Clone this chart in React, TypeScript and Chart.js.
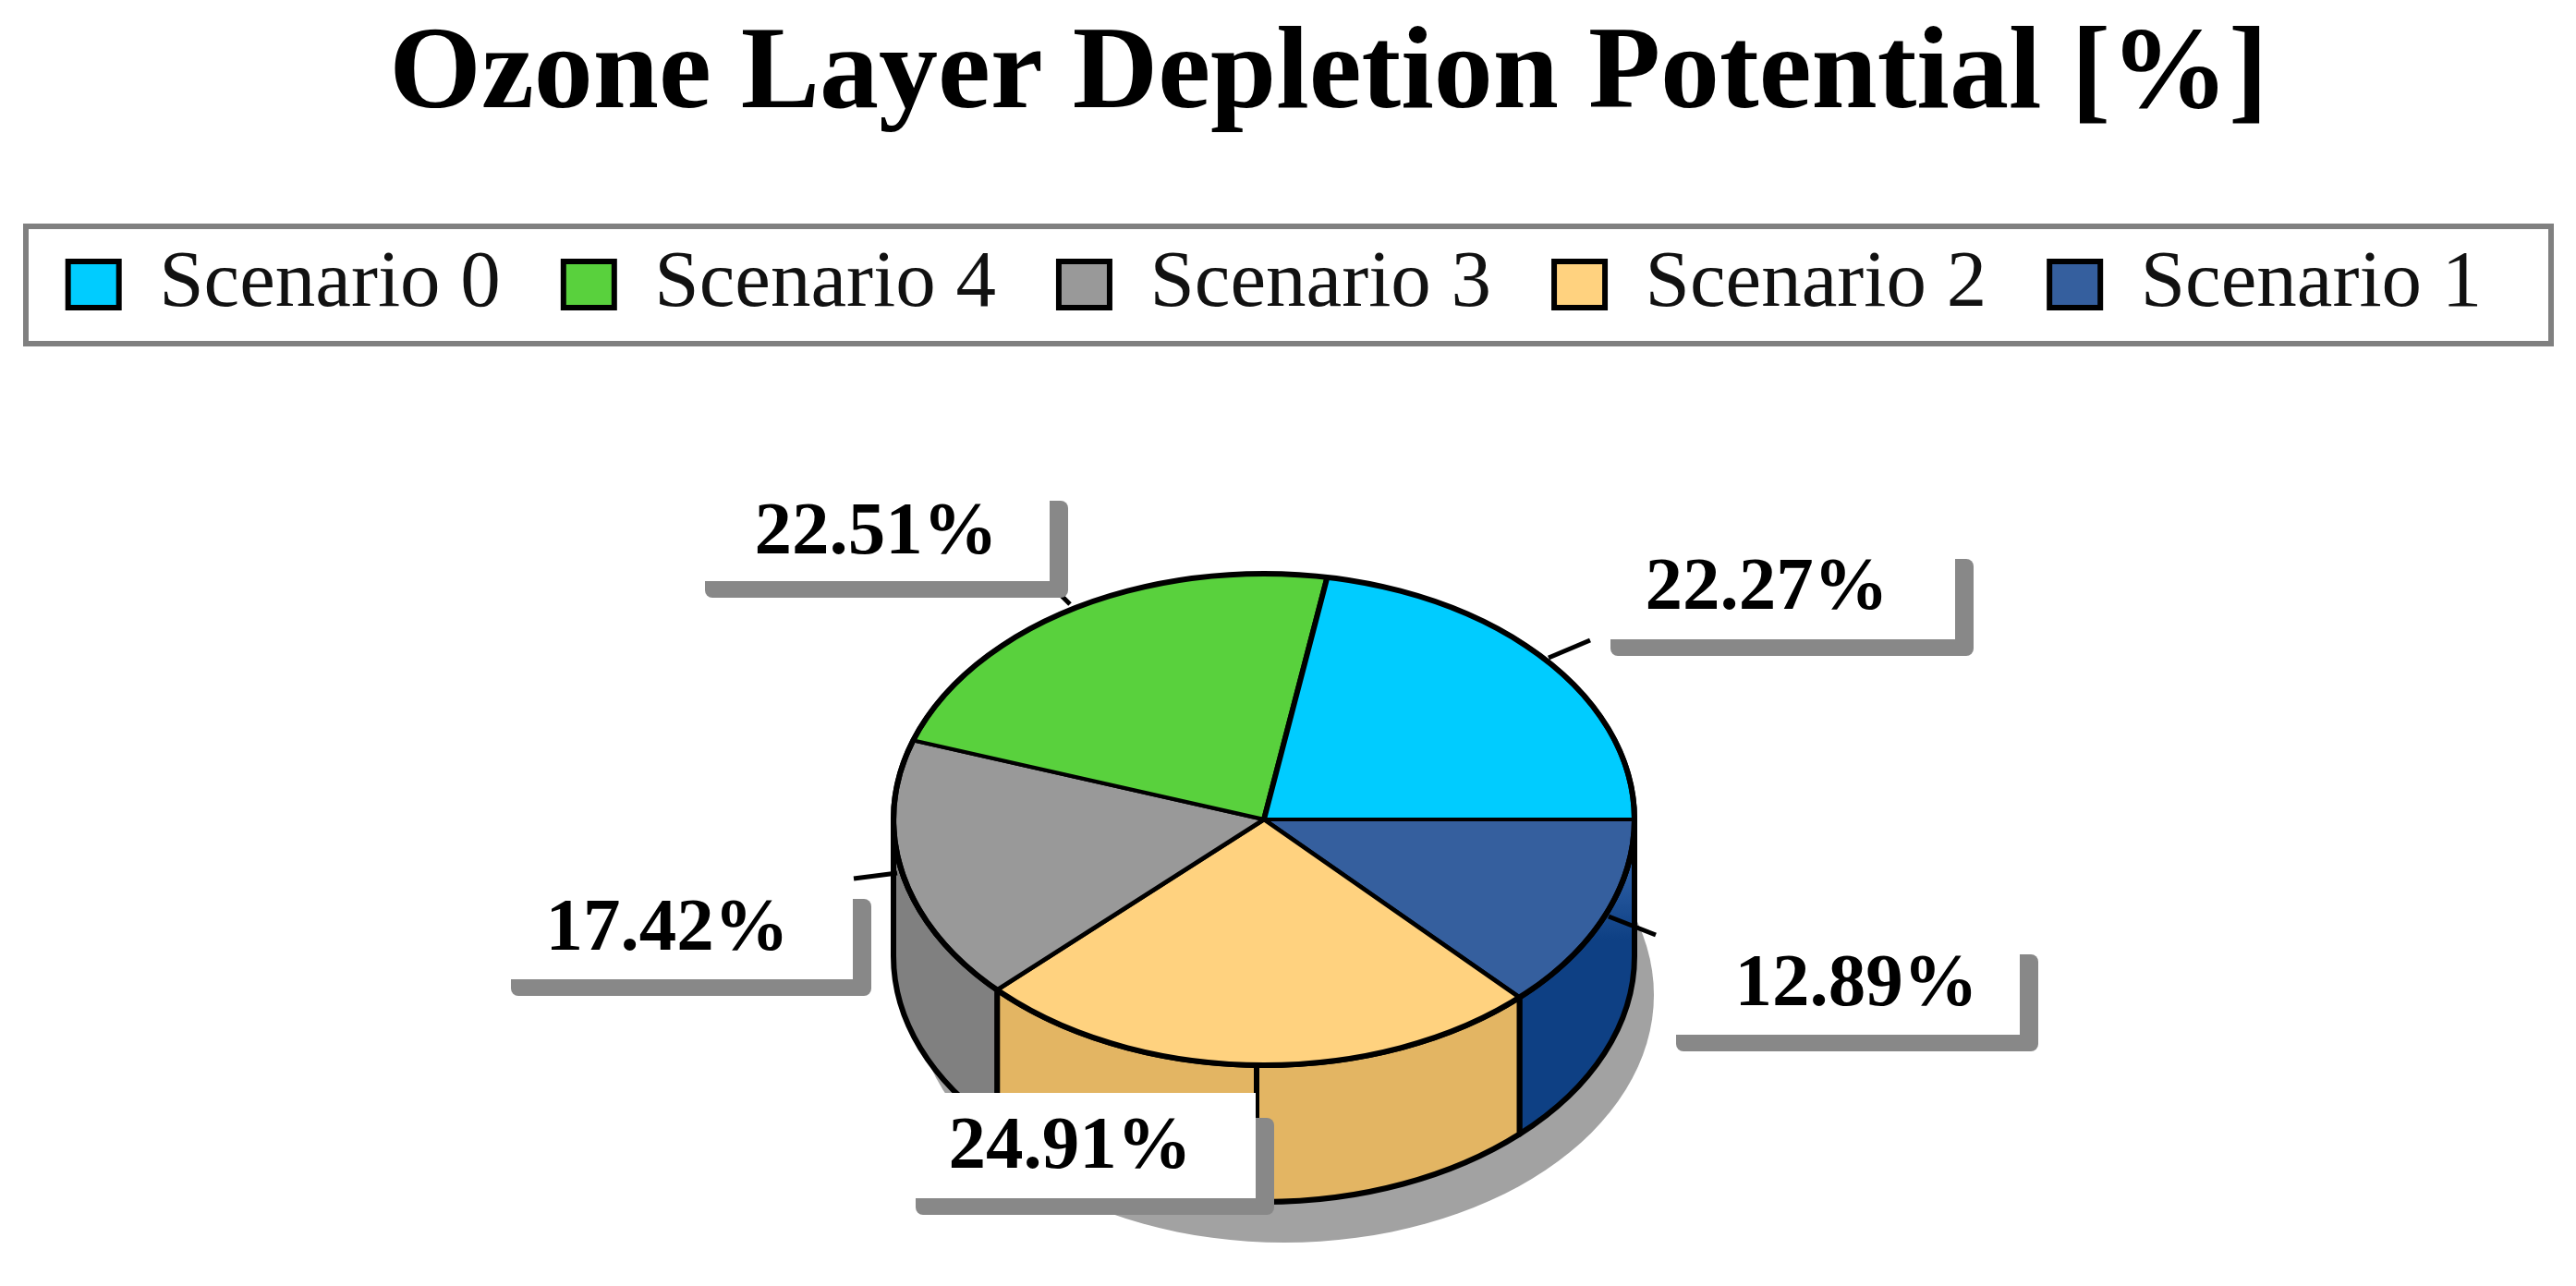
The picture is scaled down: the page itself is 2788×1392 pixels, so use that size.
import React, { useEffect, useRef } from "react";
import { Chart, registerables } from "chart.js";

Chart.register(...registerables);

const titleText = "Ozone Layer Depletion Potential [%]";
// clockwise from 3 o'clock; the legend runs in the opposite order
const categories = ["Scenario 1", "Scenario 2", "Scenario 3", "Scenario 4", "Scenario 0"];
const values = [12.89, 24.91, 17.42, 22.51, 22.27];
const topColors = ["#355F9E", "#FFD27F", "#999999", "#59D13D", "#00CCFF"];
const wallColors = ["#0E4084", "#E3B563", "#808080", "#59D13D", "#00CCFF"];

const W = 2788;
const H = 1392;
const PIE = { cx: 1368, cy: 887, rx: 401, ry: 266, depth: 148 };
const SHADOW = { cx: 1390, cy: 1077, rx: 400, ry: 268 };
const SERIF = "'Liberation Serif', serif";

// callout layout, in the order of categories: white box, text centre + baseline, leader
const calloutBoxes = [
  [1812, 1016, 374, 104],
  [989, 1183, 370, 114],
  [551, 956, 372, 104],
  [761, 525, 375, 104],
  [1741, 588, 375, 104],
];
const calloutText = [
  [2009, 1088],
  [1158, 1264],
  [722, 1028],
  [948, 599],
  [1912, 659],
];
const leaders = [
  [1741, 992, 1792, 1012],
  null,
  [971, 945, 924, 951],
  [1149, 645, 1158, 654],
  [1676, 712, 1721, 693],
];

const pie3d = {
  id: "pie3d",
  afterLayout(chart: any) {
    chart.titleBlock.left += 44;
    chart.titleBlock.right += 44;
    chart.legend.left -= 14;
    chart.legend.right -= 14;
  },
  beforeDraw(chart: any) {
    const ctx = chart.ctx;
    ctx.save();
    ctx.fillStyle = "#ffffff";
    ctx.fillRect(0, 0, W, H);
    ctx.strokeStyle = "#808080";
    ctx.lineWidth = 6;
    ctx.strokeRect(28, 245, 2733, 127);
    ctx.restore();
  },
  beforeDatasetsDraw(chart: any) {
    const ctx = chart.ctx;
    const arcs = chart.getDatasetMeta(0).data;
    const { cx, cy, rx, ry, depth } = PIE;
    ctx.save();
    ctx.fillStyle = "#A2A2A2";
    ctx.beginPath();
    ctx.ellipse(SHADOW.cx, SHADOW.cy, SHADOW.rx, SHADOW.ry, 0, 0, Math.PI * 2);
    ctx.fill();
    ctx.lineWidth = 6;
    ctx.strokeStyle = "#000";
    ctx.lineJoin = "round";
    arcs.forEach((arc: any, i: number) => {
      const norm = (a: number) => {
        let v = a;
        while (v < 0) v += Math.PI * 2;
        while (v >= Math.PI * 2) v -= Math.PI * 2;
        return v;
      };
      const s = norm(arc.startAngle);
      const e = s + (arc.endAngle - arc.startAngle);
      const a0 = Math.max(s, 0);
      const a1 = Math.min(e, Math.PI);
      if (a1 <= a0) return;
      let fill: any = wallColors[i];
      if (i === 0) {
        const g = ctx.createLinearGradient(0, cy + 60, 0, cy + 130);
        g.addColorStop(0, "#2A5CA2");
        g.addColorStop(1, wallColors[i]);
        fill = g;
      }
      ctx.fillStyle = fill;
      ctx.beginPath();
      ctx.ellipse(cx, cy, rx, ry, 0, a0, a1);
      ctx.ellipse(cx, cy + depth, rx, ry, 0, a1, a0, true);
      ctx.closePath();
      ctx.fill();
      ctx.stroke();
    });
    // seam at the very front of the wall
    ctx.beginPath();
    ctx.moveTo(cx - 8, cy + ry);
    ctx.lineTo(cx - 8, cy + ry + depth);
    ctx.stroke();
    ctx.restore();

    const a = arcs[0];
    ctx.save();
    ctx.translate(cx, cy);
    ctx.scale(rx / a.outerRadius, ry / a.outerRadius);
    ctx.translate(-a.x, -a.y);
  },
  afterDatasetsDraw(chart: any) {
    const ctx = chart.ctx;
    ctx.restore();
    const { cx, cy, rx, ry } = PIE;
    ctx.save();
    ctx.strokeStyle = "#000";
    ctx.lineWidth = 6;
    ctx.beginPath();
    ctx.ellipse(cx, cy, rx, ry, 0, 0, Math.PI * 2);
    ctx.stroke();
    ctx.lineWidth = 5;
    leaders.forEach((l) => {
      if (!l) return;
      ctx.beginPath();
      ctx.moveTo(l[0], l[1]);
      ctx.lineTo(l[2], l[3]);
      ctx.stroke();
    });
    values.forEach((v, i) => {
      const [x, y, w, h] = calloutBoxes[i];
      ctx.fillStyle = "#888888";
      ctx.beginPath();
      ctx.roundRect(x + 2, y + h - 87, w + 18, 105, 8);
      ctx.fill();
      ctx.fillStyle = "#ffffff";
      ctx.fillRect(x, y, w, h);
      ctx.fillStyle = "#000000";
      ctx.font = `bold 81px ${SERIF}`;
      ctx.textAlign = "center";
      ctx.textBaseline = "alphabetic";
      ctx.fillText(`${v.toFixed(2)}%`, calloutText[i][0], calloutText[i][1]);
    });
    ctx.restore();
  },
};

export default function App() {
  const ref = useRef<HTMLCanvasElement>(null);
  useEffect(() => {
    const chart = new Chart(ref.current as HTMLCanvasElement, {
      type: "pie",
      data: {
        labels: categories,
        datasets: [
          {
            data: values,
            backgroundColor: topColors,
            borderColor: "#000000",
            borderWidth: 6,
            clip: false,
          } as any,
        ],
      },
      options: {
        responsive: false,
        animation: false,
        rotation: 90,
        radius: 401,
        layout: { padding: 0 },
        plugins: {
          tooltip: { enabled: false },
          title: {
            display: true,
            text: titleText,
            color: "#000000",
            font: { family: SERIF, size: 128, weight: "bold" },
            padding: { top: 6, bottom: 37 },
          },
          legend: {
            display: true,
            position: "top",
            reverse: true,
            onClick: () => {},
            labels: {
              color: "#111111",
              boxWidth: 55,
              boxHeight: 50,
              padding: 68,
              font: { family: SERIF, size: 87 },
            },
          },
        },
      } as any,
      plugins: [pie3d],
    });
    return () => chart.destroy();
  }, []);
  return (
    <div style={{ position: "fixed", left: 0, top: 0, width: W, height: H, background: "#fff" }}>
      <canvas ref={ref} width={W} height={H} style={{ display: "block", width: W, height: H }} />
    </div>
  );
}
